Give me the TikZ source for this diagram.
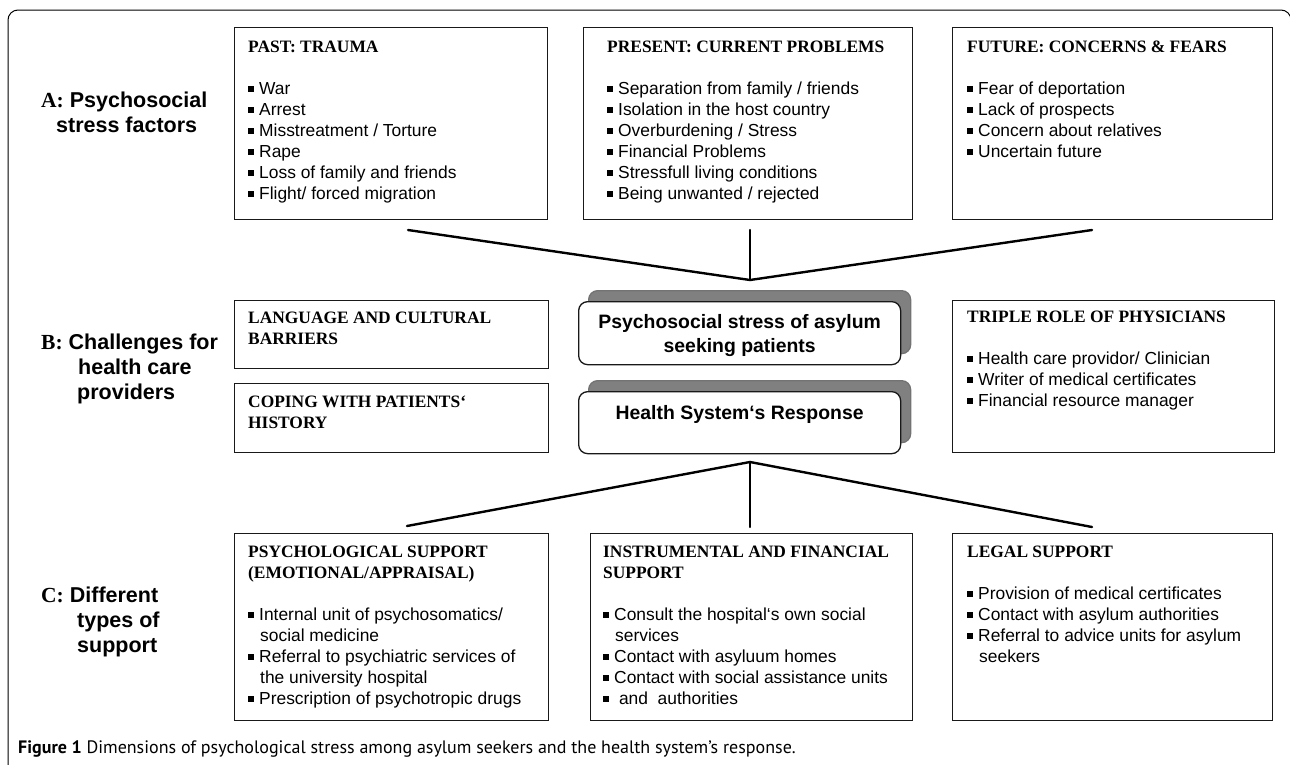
\documentclass[tikz,border=0pt]{standalone}
\usepackage{fontspec}
\setmainfont{Liberation Sans}
\newfontfamily\headfont{Liberation Serif}
\newfontfamily\capfont{PT Sans}
\usetikzlibrary{positioning,shadows}
\newcommand{\bul}{\rule[3pt]{6pt}{6pt}\hspace{5pt}}
\newcommand{\hd}[1]{{\headfont\bfseries #1}}

\begin{document}
\begin{tikzpicture}[x=1pt, y=-1pt,
    box/.style={draw=black!90, line width=1.3pt, inner sep=0pt, anchor=north west},
    centrebox/.style={draw=black!90, fill=white, line width=1.3pt, rounded corners=9pt,
        inner sep=0pt, anchor=north west,
        general shadow={fill=black!50, draw=black!55, shadow xshift=10pt, shadow yshift=11pt}},
    boxtext/.style={anchor=north west, inner sep=0pt, align=left,
        font=\fontsize{17.4}{21}\selectfont},
    centretext/.style={anchor=north, inner sep=0pt, align=center,
        font=\fontsize{19.4}{24}\selectfont\bfseries},
    rowlabel/.style={anchor=north west, inner sep=0pt, align=left,
        font=\fontsize{21.5}{25}\selectfont\bfseries},
    forkline/.style={line width=2.4pt, line cap=round}]
    \useasboundingbox (0,0) rectangle (1290,764);
    \clip (0,0) rectangle (1290,764);
    % Outer frame
    \draw[line width=1pt, rounded corners=10pt] (8,790) -- (8,10) -- (1291,10) -- (1291,790);
    % Row labels
    \node[rowlabel] (labA) at (41,92) {{\headfont A:} Psychosocial\\\hspace*{15pt}stress factors};
    \node[rowlabel] (labB) at (41,334) {{\headfont B:} Challenges for\\\hspace*{37pt}health care\\\hspace*{36pt}providers};
    \node[rowlabel] (labC) at (41,587) {{\headfont C:} Different\\\hspace*{36pt}types of\\\hspace*{36pt}support};
    % Row A: stress factors
    \node[box, minimum width=313pt, minimum height=192pt] (pastbox) at (234,27) {};
    \node[box, minimum width=329pt, minimum height=192pt] (presentbox) at (583,27) {};
    \node[box, minimum width=320pt, minimum height=192pt] (futurebox) at (952,27) {};
    \node[boxtext, below right=14pt and 14pt of pastbox.north west] (pasttext) {\hd{PAST: TRAUMA}\\[21pt]
        \bul War\\\bul Arrest\\\bul Misstreatment / Torture\\\bul Rape\\
        \bul Loss of family and friends\\\bul Flight/ forced migration};
    \node[boxtext, below right=14pt and 24pt of presentbox.north west] (presenttext) {\hd{PRESENT: CURRENT PROBLEMS}\\[21pt]
        \bul Separation from family / friends\\\bul Isolation in the host country\\
        \bul Overburdening / Stress\\\bul Financial Problems\\
        \bul Stressfull living conditions\\\bul Being unwanted / rejected};
    \node[boxtext, below right=14pt and 15pt of futurebox.north west] (futuretext) {\hd{FUTURE: CONCERNS \& FEARS}\\[21pt]
        \bul Fear of deportation\\\bul Lack of prospects\\
        \bul Concern about relatives\\\bul Uncertain future};
    % Row B: challenges and the two central boxes
    \node[box, minimum width=314pt, minimum height=68pt] (langbox) at (234,300) {};
    \node[box, minimum width=314pt, minimum height=69pt] (copebox) at (234,383) {};
    \node[boxtext, below right=12pt and 14pt of langbox.north west] (langtext) {\hd{LANGUAGE AND CULTURAL}\\\hd{BARRIERS}};
    \node[boxtext, below right=13pt and 14pt of copebox.north west] (copetext) {\hd{COPING WITH PATIENTS‘}\\\hd{HISTORY}};
    \node[centrebox, minimum width=322pt, minimum height=63pt] (stressbox) at (578,301) {};
    \node[centrebox, minimum width=322pt, minimum height=62pt] (healthbox) at (578,391) {};
    \node[centretext, below=13pt of stressbox.north] (stresstext) {Psychosocial stress of asylum\\seeking patients};
    \node[centretext, below=14pt of healthbox.north] (healthtext) {Health System‘s Response};
    \node[box, minimum width=322pt, minimum height=152pt] (rolebox) at (952,300) {};
    \node[boxtext, below right=11pt and 15pt of rolebox.north west] (roletext) {\hd{TRIPLE ROLE OF PHYSICIANS}\\[21pt]
        \bul Health care providor/ Clinician\\\bul Writer of medical certificates\\
        \bul Financial resource manager};
    % Row C: types of support
    \node[box, minimum width=314pt, minimum height=187pt] (psychbox) at (234,533) {};
    \node[box, minimum width=322pt, minimum height=187pt] (instrbox) at (590,533) {};
    \node[box, minimum width=320pt, minimum height=187pt] (legalbox) at (952,533) {};
    \node[boxtext, below right=13pt and 14pt of psychbox.north west] (psychtext) {\hd{PSYCHOLOGICAL SUPPORT}\\\hd{(EMOTIONAL/APPRAISAL)}\\[21pt]
        \bul Internal unit of psychosomatics/\\\hspace*{12pt}social medicine\\
        \bul Referral to psychiatric services of\\\hspace*{12pt}the university hospital\\
        \bul Prescription of psychotropic drugs};
    \node[boxtext, below right=13pt and 13pt of instrbox.north west] (instrtext) {\hd{INSTRUMENTAL AND FINANCIAL}\\\hd{SUPPORT}\\[21pt]
        \bul Consult the hospital‘s own social\\\hspace*{12pt}services\\
        \bul Contact with asyluum homes\\\bul Contact with social assistance units\\
        \bul\ and\ \ authorities};
    \node[boxtext, below right=13pt and 15pt of legalbox.north west] (legaltext) {\hd{LEGAL SUPPORT}\\[21pt]
        \bul Provision of medical certificates\\\bul Contact with asylum authorities\\
        \bul Referral to advice units for asylum\\\hspace*{12pt}seekers};
    % Fork lines
    \coordinate (topjoin) at (750,280);
    \coordinate (pastfoot) at (408,230);
    \coordinate (presentfoot) at (750,230);
    \coordinate (futurefoot) at (1092,230);
    \coordinate (botjoin) at (750,462);
    \coordinate (psychtop) at (407,526);
    \coordinate (instrtop) at (750,527);
    \coordinate (legaltop) at (1092,527);
    \foreach \f in {pastfoot,presentfoot,futurefoot} {
            \draw[forkline] (\f) -- (topjoin);
        }
    \foreach \f in {psychtop,instrtop,legaltop} {
            \draw[forkline] (botjoin) -- (\f);
        }
    % Caption
    \node[anchor=base west, inner sep=0pt, font=\capfont\fontsize{18}{21}\selectfont] (caption) at (18,753)
        {\textbf{Figure 1} Dimensions of psychological stress among asylum seekers and the health system’s response.};
\end{tikzpicture}
\end{document}
